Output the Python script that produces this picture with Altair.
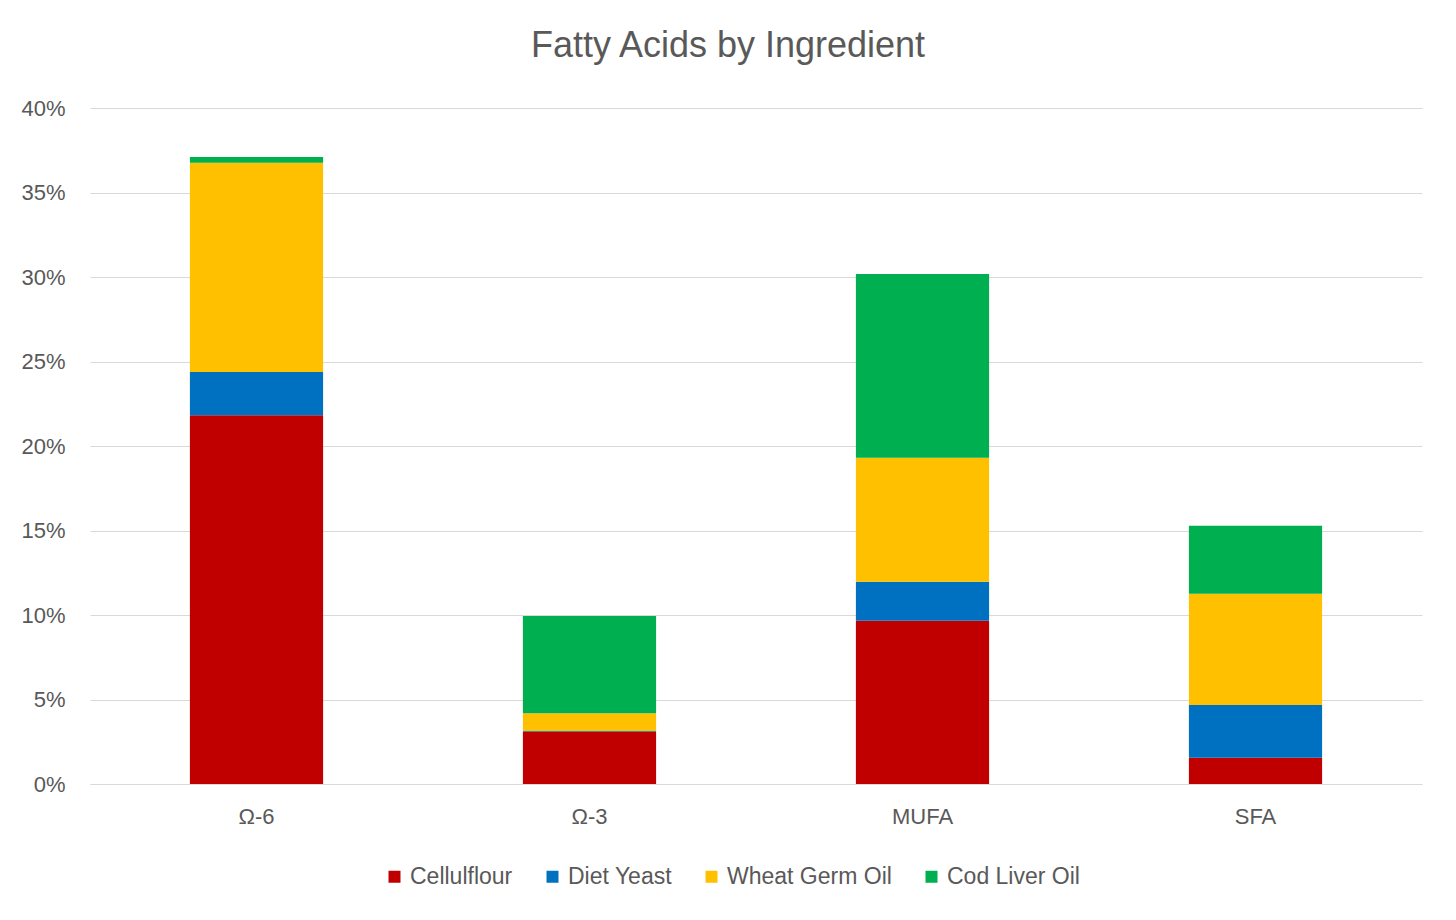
import altair as alt
import pandas as pd

categories = ["Ω-6", "Ω-3", "MUFA", "SFA"]
series = ["Cellulflour", "Diet Yeast", "Wheat Germ Oil", "Cod Liver Oil"]
cellulflour = [21.82, 3.09, 9.66, 1.56]
diet_yeast = [2.56, 0.05, 2.31, 3.11]
wheat_germ_oil = [12.38, 1.04, 7.34, 6.59]
cod_liver_oil = [0.34, 5.76, 10.87, 4.02]
colors = ["#C00000", "#0070C0", "#FFC000", "#00B050"]
y_ticks = [0, 5, 10, 15, 20, 25, 30, 35, 40]

rows = []
for si, (name, vals) in enumerate(zip(series, [cellulflour, diet_yeast, wheat_germ_oil, cod_liver_oil])):
    for cat, v in zip(categories, vals):
        rows.append({"category": cat, "ingredient": name, "value": v, "order": si})
df = pd.DataFrame(rows)

FONT = "Liberation Sans"
TXT = "#595959"
GRID = "#D9D9D9"

chart = alt.Chart(df).mark_bar().encode(
    x=alt.X("category:N", sort=categories, title=None,
            scale=alt.Scale(paddingInner=0.6, paddingOuter=0.3),
            axis=alt.Axis(labelAngle=0, ticks=False, tickSize=0, domainColor=GRID,
                          domainWidth=1, labelPadding=22, labelFontSize=22,
                          labelColor=TXT, labelFont=FONT, grid=False)),
    y=alt.Y("value:Q", title=None, stack="zero",
            scale=alt.Scale(domain=[0, 40], nice=False),
            axis=alt.Axis(values=y_ticks, labelExpr="datum.value + '%'", domain=False,
                          ticks=False, tickSize=0, labelPadding=25, labelFontSize=22,
                          labelColor=TXT, labelFont=FONT, gridColor=GRID, gridWidth=1)),
    color=alt.Color("ingredient:N", sort=series,
                    scale=alt.Scale(domain=series, range=colors),
                    legend=alt.Legend(title=None, orient="none", direction="horizontal",
                                      legendX=293, legendY=757, symbolType="square",
                                      symbolSize=144, symbolStrokeWidth=0,
                                      labelOffset=4, columnPadding=28, padding=0,
                                      labelLimit=400,
                                      labelFontSize=23, labelColor=TXT, labelFont=FONT)),
    order=alt.Order("order:Q", sort="ascending"),
).properties(
    width=1332,
    height=676,
    padding={"left": 82, "top": 100, "right": 26, "bottom": 128},
    autosize=alt.AutoSizeParams(type="none"),
    title=alt.TitleParams("Fatty Acids by Ingredient", fontSize=36, font=FONT,
                          fontWeight="normal", color=TXT, anchor="middle",
                          baseline="alphabetic", offset=4, dx=-28),
).configure(background="white").configure_view(strokeWidth=0, stroke=None)

chart.save("out.html", embed_options={"renderer": "svg", "actions": False})
